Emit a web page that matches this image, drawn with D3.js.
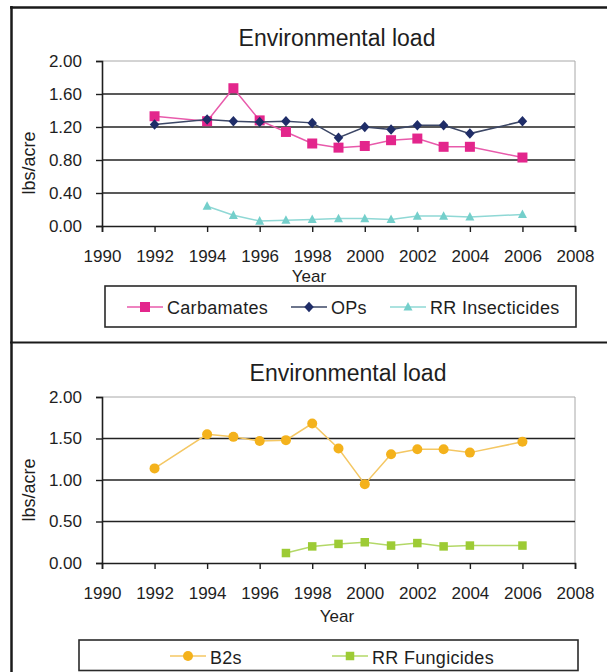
<!DOCTYPE html>
<html>
<head>
<meta charset="utf-8">
<script src="https://cdn.jsdelivr.net/npm/d3@7"></script>
<style>
  html, body { margin: 0; padding: 0; background: #fff; }
  svg { display: block; font-family: "Liberation Sans", Arial, sans-serif; }
</style>
</head>
<body>
<svg id="chart" width="607" height="672"></svg>
<script>
// ---------------- DATA ----------------
const chartTitle = "Environmental load";
const yAxisLabel = "lbs/acre";
const xAxisLabel = "Year";
const xTickYears = [1990, 1992, 1994, 1996, 1998, 2000, 2002, 2004, 2006, 2008];

// Panel 1 (insecticides)
const topYTicks = [0, 0.4, 0.8, 1.2, 1.6, 2.0];
const carbamateYears = [1992, 1994, 1995, 1996, 1997, 1998, 1999, 2000, 2001, 2002, 2003, 2004, 2006];
const carbamateValues = [1.33, 1.27, 1.67, 1.28, 1.14, 1.00, 0.95, 0.97, 1.04, 1.06, 0.96, 0.96, 0.83];
const opYears = [1992, 1994, 1995, 1996, 1997, 1998, 1999, 2000, 2001, 2002, 2003, 2004, 2006];
const opValues = [1.23, 1.29, 1.27, 1.26, 1.27, 1.25, 1.07, 1.20, 1.17, 1.22, 1.22, 1.12, 1.27];
const rrInsectYears = [1994, 1995, 1996, 1997, 1998, 1999, 2000, 2001, 2002, 2003, 2004, 2006];
const rrInsectValues = [0.24, 0.13, 0.06, 0.07, 0.08, 0.09, 0.09, 0.08, 0.12, 0.12, 0.11, 0.14];

// Panel 2 (fungicides)
const bottomYTicks = [0, 0.5, 1.0, 1.5, 2.0];
const b2Years = [1992, 1994, 1995, 1996, 1997, 1998, 1999, 2000, 2001, 2002, 2003, 2004, 2006];
const b2Values = [1.14, 1.55, 1.52, 1.47, 1.48, 1.68, 1.38, 0.95, 1.31, 1.37, 1.37, 1.33, 1.46];
const rrFungYears = [1997, 1998, 1999, 2000, 2001, 2002, 2003, 2004, 2006];
const rrFungValues = [0.12, 0.20, 0.23, 0.25, 0.21, 0.24, 0.20, 0.21, 0.21];

// ---------------- DRAW ----------------
const svg = d3.select("#chart");
const ink = "#1e1e1e";

function zip(xs, ys) { return xs.map((x, i) => ({ x, y: ys[i] })); }

const panels = [
  {
    top: 61, bottom: 226, yTicks: topYTicks,
    titleX: 337, titleY: 46,
    yLabelX: 35, yLabelY: 163,
    xLabelX: 309, xLabelY: 282,
    legend: { x0: 105, x1: 576, y0: 286, y1: 327, cy: 307, textBase: 313.5 },
    series: [
      { name: "Carbamates", data: zip(carbamateYears, carbamateValues), shape: "square", size: 10, fill: "#e3268c", stroke: "#e85aab", legendX: 145 },
      { name: "OPs", data: zip(opYears, opValues), shape: "diamond", size: 9.5, fill: "#1f2d68", stroke: "#3c4766", legendX: 309 },
      { name: "RR Insecticides", data: zip(rrInsectYears, rrInsectValues), shape: "triangle", size: 9, fill: "#74cfcb", stroke: "#8fd8d5", legendX: 408 }
    ]
  },
  {
    top: 397, bottom: 563, yTicks: bottomYTicks,
    titleX: 348, titleY: 381,
    yLabelX: 35, yLabelY: 490,
    xLabelX: 337, xLabelY: 622,
    legend: { x0: 79, x1: 578, y0: 640, y1: 670.5, cy: 656, textBase: 664 },
    series: [
      { name: "B2s", data: zip(b2Years, b2Values), shape: "circle", size: 10, fill: "#f4b21c", stroke: "#f4c763", legendX: 188 },
      { name: "RR Fungicides", data: zip(rrFungYears, rrFungValues), shape: "square", size: 8.5, fill: "#9dcb35", stroke: "#b3d867", legendX: 350 }
    ]
  }
];

const left = 102, right = 575;

function drawMarker(g, shape, size, fill) {
  if (shape === "square") {
    g.append("rect").attr("x", -size / 2).attr("y", -size / 2)
      .attr("width", size).attr("height", size).attr("fill", fill);
  } else if (shape === "diamond") {
    const h = size / 2;
    g.append("path").attr("d", `M0,${-h - 0.5}L${h},0L0,${h + 0.5}L${-h},0Z`).attr("fill", fill);
  } else if (shape === "triangle") {
    const s = size;
    g.append("path").attr("d", `M0,${-s * 0.55}L${s / 2},${s * 0.4}L${-s / 2},${s * 0.4}Z`).attr("fill", fill);
  } else {
    g.append("circle").attr("r", size / 2).attr("fill", fill);
  }
}

panels.forEach(p => {
  const x = d3.scaleLinear().domain([1990, 2008]).range([left, right]);
  const y = d3.scaleLinear().domain([0, 2]).range([p.bottom, p.top]);
  const g = svg.append("g");

  // title
  g.append("text").attr("x", p.titleX).attr("y", p.titleY)
    .attr("text-anchor", "middle").attr("font-size", 23).attr("fill", ink)
    .text(chartTitle);

  // plot border (top & right, light grey)
  g.append("line").attr("x1", left).attr("x2", right).attr("y1", y(2)).attr("y2", y(2))
    .attr("stroke", "#a8a8a8").attr("stroke-width", 1);
  g.append("line").attr("x1", right).attr("x2", right).attr("y1", y(2)).attr("y2", y(0))
    .attr("stroke", "#a8a8a8").attr("stroke-width", 1);

  // gridlines
  g.selectAll(".grid").data(p.yTicks.filter(t => t > 0 && t < 2)).join("line")
    .attr("x1", left).attr("x2", right)
    .attr("y1", d => y(d)).attr("y2", d => y(d))
    .attr("stroke", "#222").attr("stroke-width", 1.6);

  // y axis
  const ya = g.append("g").attr("transform", `translate(${left},0)`)
    .call(d3.axisLeft(y).tickValues(p.yTicks).tickFormat(d3.format(".2f")).tickSize(6).tickPadding(14));
  ya.select(".domain").attr("stroke", ink).attr("stroke-width", 1.6);
  ya.selectAll(".tick line").attr("stroke", ink).attr("stroke-width", 1.4);
  ya.selectAll("text").attr("font-size", 17).attr("fill", ink).attr("font-family", "Liberation Sans, Arial, sans-serif");

  // x axis
  const xa = g.append("g").attr("transform", `translate(0,${y(0)})`)
    .call(d3.axisBottom(x).tickValues(xTickYears).tickFormat(d3.format("d")).tickSize(6).tickPadding(18));
  xa.select(".domain").attr("stroke", ink).attr("stroke-width", 1.6);
  xa.selectAll(".tick line").attr("stroke", ink).attr("stroke-width", 1.4);
  xa.selectAll("text").attr("font-size", 17).attr("fill", ink).attr("font-family", "Liberation Sans, Arial, sans-serif");

  // axis labels
  g.append("text").attr("transform", `translate(${p.yLabelX},${p.yLabelY}) rotate(-90)`)
    .attr("text-anchor", "middle").attr("font-size", 18).attr("fill", ink).text(yAxisLabel);
  g.append("text").attr("x", p.xLabelX).attr("y", p.xLabelY)
    .attr("text-anchor", "middle").attr("font-size", 17).attr("fill", ink).text(xAxisLabel);

  // series
  const line = d3.line().x(d => x(d.x)).y(d => y(d.y));
  p.series.forEach(s => {
    g.append("path").datum(s.data).attr("d", line)
      .attr("fill", "none").attr("stroke", s.stroke).attr("stroke-width", 1.5);
    s.data.forEach(d => {
      const mg = g.append("g").attr("transform", `translate(${x(d.x)},${y(d.y)})`);
      drawMarker(mg, s.shape, s.size, s.fill);
    });
  });

  // legend
  const L = p.legend;
  g.append("rect").attr("x", L.x0).attr("y", L.y0).attr("width", L.x1 - L.x0).attr("height", L.y1 - L.y0)
    .attr("fill", "#fff").attr("stroke", "#2a2a2a").attr("stroke-width", 1.6);
  p.series.forEach(s => {
    const lg = g.append("g");
    lg.append("line").attr("x1", s.legendX - 18).attr("x2", s.legendX + 18)
      .attr("y1", L.cy).attr("y2", L.cy).attr("stroke", s.stroke).attr("stroke-width", 1.5);
    const mg = lg.append("g").attr("transform", `translate(${s.legendX},${L.cy})`);
    drawMarker(mg, s.shape, s.size, s.fill);
    lg.append("text").attr("x", s.legendX + 22).attr("y", L.textBase)
      .attr("font-size", 18).attr("fill", ink).attr("letter-spacing", 0.3).text(s.name);
  });
});

// outer frame
svg.append("line").attr("x1", 11.5).attr("x2", 11.5).attr("y1", 6).attr("y2", 672)
  .attr("stroke", "#1a1a1a").attr("stroke-width", 2.5);
svg.append("line").attr("x1", 10).attr("x2", 607).attr("y1", 7.5).attr("y2", 7.5)
  .attr("stroke", "#1a1a1a").attr("stroke-width", 2.5);
svg.append("line").attr("x1", 10).attr("x2", 607).attr("y1", 342.5).attr("y2", 342.5)
  .attr("stroke", "#1a1a1a").attr("stroke-width", 2.2);
</script>
</body>
</html>
